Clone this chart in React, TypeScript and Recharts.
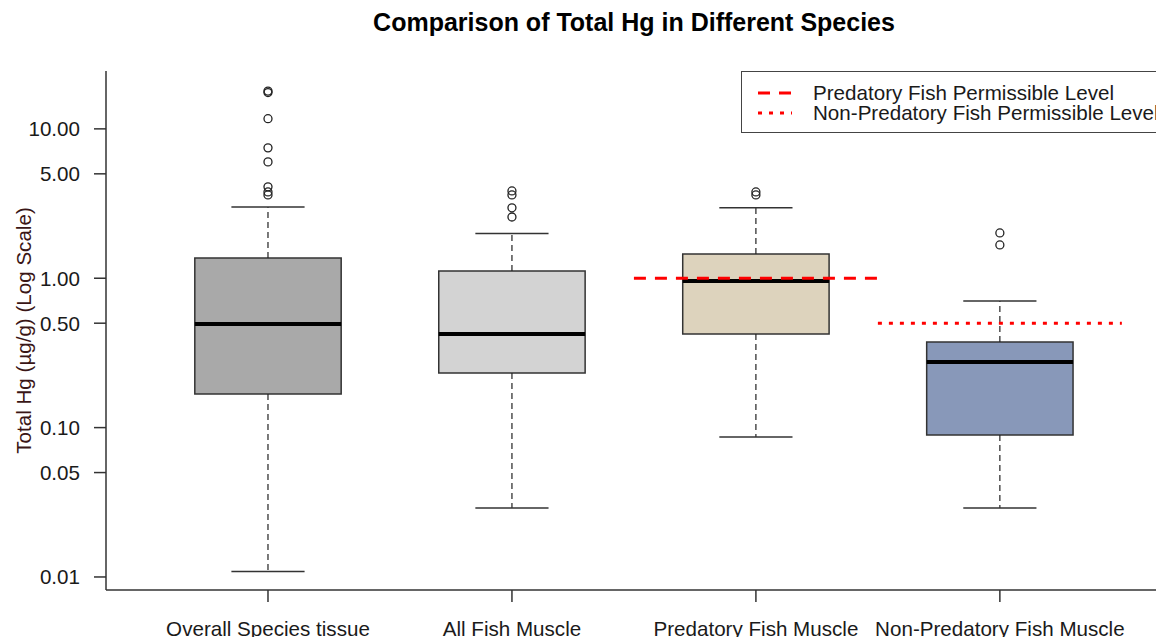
import React from 'react';
import {
  ComposedChart,
  XAxis,
  YAxis,
  Scatter,
  ReferenceArea,
  ReferenceLine,
  Label,
  Legend,
} from 'recharts';

// ---------- data ----------
const categories = [
  'Overall Species tissue',
  'All Fish Muscle',
  'Predatory Fish Muscle',
  'Non-Predatory Fish Muscle',
];
const positions = [1, 2, 3, 4];
const lowerWhiskers = [0.0109, 0.0289, 0.0865, 0.0289];
const q1Values = [0.168, 0.232, 0.424, 0.0892];
const medians = [0.494, 0.424, 0.959, 0.275];
const q3Values = [1.367, 1.119, 1.455, 0.374];
const upperWhiskers = [3.0, 1.99, 2.96, 0.705];
const outliers = [
  [17.5, 17.9, 11.7, 7.46, 6.01, 4.09, 3.78, 3.61],
  [3.84, 3.61, 2.96, 2.57],
  [3.78, 3.61],
  [2.01, 1.67],
];
const yTicks = [0.01, 0.05, 0.1, 0.5, 1, 5, 10];
const levelLabels = ['Predatory Fish Permissible Level', 'Non-Predatory Fish Permissible Level'];
const levelValues = [1.0, 0.5];
const levelCategory = [3, 4];

// ---------- styles ----------
const boxFills = ['#A9A9A9', '#D3D3D3', '#DDD3BD', '#8898B9'];
const levelDash = ['12 9', '4 7'];
const FONT = '"Liberation Sans", Arial, sans-serif';
const FS = 20.6;
const BOX_HALF = 0.3;
const CAP_HALF = 0.15;
const LEVEL_HALF = 0.5;
const W = 1156;
const H = 637;

const outlierData = outliers.flatMap((vals, i) => vals.map((v) => ({ x: positions[i], y: v })));

const OutlierShape = (props: any) => {
  const { cx, cy } = props;
  if (cx == null || cy == null) return null;
  return <circle cx={cx} cy={cy} r={4} fill="none" stroke="#222" strokeWidth={1.3} />;
};

const YLabel = (props: any) => {
  const vb = props.viewBox || {};
  const x = (vb.x || 0) + 23;
  const y = (vb.y || 0) + (vb.height || 0) / 2;
  return (
    <text
      x={x}
      y={y}
      transform={`rotate(-90, ${x}, ${y})`}
      textAnchor="middle"
      dominantBaseline="central"
      fontSize={FS}
      fontFamily={FONT}
      fill="#3a1616"
    >
      Total Hg (µg/g) (Log Scale)
    </text>
  );
};

const LegendBox = () => (
  <div
    style={{
      position: 'absolute',
      left: 741,
      top: 71,
      width: 440,
      height: 62,
      boxSizing: 'border-box',
      border: '1.5px solid #444',
      background: '#fff',
      fontFamily: FONT,
      fontSize: FS,
      color: '#1a1a1a',
    }}
  >
    {levelLabels.map((lab, i) => (
      <div
        key={lab}
        style={{ position: 'absolute', left: 0, top: 11 + i * 20, height: 20, display: 'flex', alignItems: 'center' }}
      >
        <svg width={71} height={20} style={{ display: 'block' }}>
          <line x1={16} x2={50} y1={10} y2={10} stroke="#FF0000" strokeWidth={3} strokeDasharray={levelDash[i]} />
        </svg>
        <span style={{ whiteSpace: 'nowrap', lineHeight: '20px' }}>{lab}</span>
      </div>
    ))}
  </div>
);

export default function App() {
  return (
    <div style={{ position: 'absolute', left: 0, top: 0, width: W, height: H, overflow: 'hidden', background: '#fff' }}>
      <div
        style={{
          position: 'absolute',
          left: 0,
          top: 10,
          width: 1268,
          textAlign: 'center',
          fontFamily: FONT,
          fontWeight: 'bold',
          fontSize: 25,
          lineHeight: '25px',
          color: '#000',
          zIndex: 2,
        }}
      >
        Comparison of Total Hg in Different Species
      </div>
      <ComposedChart width={W} height={H} margin={{ top: 71, right: 0, bottom: 0, left: 0 }}>
        <XAxis
          type="number"
          dataKey="x"
          domain={[0.336, 4.64]}
          allowDataOverflow
          ticks={positions}
          interval={0}
          tickFormatter={(v: number) => categories[positions.indexOf(v)] ?? ''}
          height={47}
          tickSize={12}
          tickMargin={19}
          axisLine={{ stroke: '#333', strokeWidth: 1.5 }}
          tickLine={{ stroke: '#333', strokeWidth: 1.5 }}
          tick={{ fontSize: FS, fill: '#1a1a1a', fontFamily: FONT }}
        />
        <YAxis
          type="number"
          dataKey="y"
          scale="log"
          domain={[0.00818, 24.4]}
          allowDataOverflow
          ticks={yTicks}
          interval={0}
          tickFormatter={(v: number) => v.toFixed(2)}
          width={106}
          tickSize={12}
          tickMargin={14}
          axisLine={{ stroke: '#333', strokeWidth: 1.5 }}
          tickLine={{ stroke: '#333', strokeWidth: 1.5 }}
          tick={{ fontSize: FS, fill: '#1a1a1a', fontFamily: FONT }}
        >
          <Label content={<YLabel />} />
        </YAxis>

        {positions.map((p, i) => (
          <ReferenceArea
            key={`box-${i}`}
            x1={p - BOX_HALF}
            x2={p + BOX_HALF}
            y1={q1Values[i]}
            y2={q3Values[i]}
            fill={boxFills[i]}
            fillOpacity={1}
            stroke="#333"
            strokeWidth={1.5}
          />
        ))}
        {positions.map((p, i) => (
          <ReferenceLine
            key={`wu-${i}`}
            segment={[{ x: p, y: q3Values[i] }, { x: p, y: upperWhiskers[i] }]}
            stroke="#222"
            strokeWidth={1.2}
            strokeDasharray="6 4"
          />
        ))}
        {positions.map((p, i) => (
          <ReferenceLine
            key={`wl-${i}`}
            segment={[{ x: p, y: q1Values[i] }, { x: p, y: lowerWhiskers[i] }]}
            stroke="#222"
            strokeWidth={1.2}
            strokeDasharray="6 4"
          />
        ))}
        {positions.map((p, i) => (
          <ReferenceLine
            key={`cu-${i}`}
            segment={[{ x: p - CAP_HALF, y: upperWhiskers[i] }, { x: p + CAP_HALF, y: upperWhiskers[i] }]}
            stroke="#333"
            strokeWidth={1.5}
          />
        ))}
        {positions.map((p, i) => (
          <ReferenceLine
            key={`cl-${i}`}
            segment={[{ x: p - CAP_HALF, y: lowerWhiskers[i] }, { x: p + CAP_HALF, y: lowerWhiskers[i] }]}
            stroke="#333"
            strokeWidth={1.5}
          />
        ))}
        {positions.map((p, i) => (
          <ReferenceLine
            key={`med-${i}`}
            segment={[{ x: p - BOX_HALF, y: medians[i] }, { x: p + BOX_HALF, y: medians[i] }]}
            stroke="#000"
            strokeWidth={4}
          />
        ))}
        <Scatter data={outlierData} dataKey="y" shape={<OutlierShape />} isAnimationActive={false} />
        {levelValues.map((v, i) => (
          <ReferenceLine
            key={`lvl-${i}`}
            segment={[
              { x: levelCategory[i] - LEVEL_HALF, y: v },
              { x: levelCategory[i] + LEVEL_HALF, y: v },
            ]}
            stroke="#FF0000"
            strokeWidth={3}
            strokeDasharray={levelDash[i]}
          />
        ))}
        <Legend content={() => <LegendBox />} wrapperStyle={{ position: 'absolute', left: 0, top: 0, width: 0, height: 0 }} />
      </ComposedChart>
    </div>
  );
}
